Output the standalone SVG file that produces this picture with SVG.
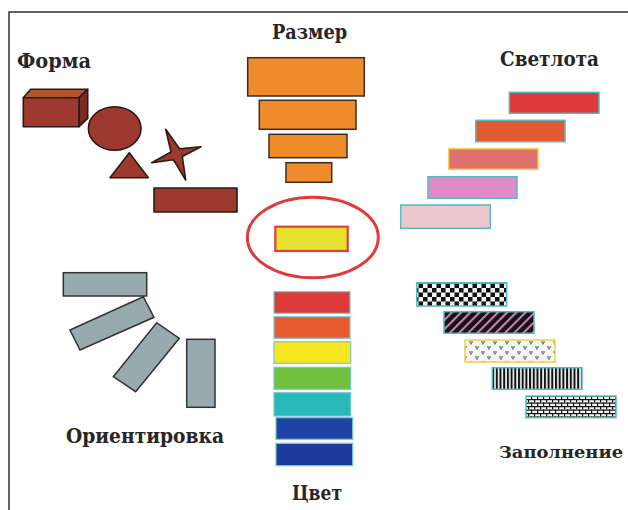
<svg xmlns="http://www.w3.org/2000/svg" width="628" height="510" viewBox="0 0 628 510">
<style>
.t{font-family:"DejaVu Serif","Liberation Serif","Times New Roman",serif;font-weight:bold;font-size:20px;fill:#262626}
.br{fill:#9c3a2f;stroke:#2a1a16;stroke-width:1.6;stroke-linejoin:round}
.or{fill:#f08b2c;stroke:#3a2c22;stroke-width:1.5}
.gr{fill:#98a9af;stroke:#333;stroke-width:1.5}
.tl{stroke:#52bcc0;stroke-width:1.5}
.cl{stroke:#70cccc;stroke-width:1.2}
</style>
<defs>
<pattern id="chk" width="9" height="9" patternUnits="userSpaceOnUse">
<rect width="9" height="9" fill="#f2f2f2"/>
<rect width="4.5" height="4.5" fill="#111"/>
<rect x="4.5" y="4.5" width="4.5" height="4.5" fill="#111"/>
</pattern>
<pattern id="diag" width="6.5" height="6.5" patternUnits="userSpaceOnUse" patternTransform="rotate(45)">
<rect width="6.5" height="6.5" fill="#151515"/>
<rect width="2" height="6.5" fill="#d77fc0"/>
</pattern>
<pattern id="vert" width="3.7" height="10" patternUnits="userSpaceOnUse">
<rect width="3.7" height="10" fill="#f4f4f4"/>
<rect width="2" height="10" fill="#111"/>
</pattern>
<pattern id="brick" width="12" height="7" patternUnits="userSpaceOnUse">
<rect width="12" height="7" fill="#f4f4f4"/>
<rect width="12" height="1.2" fill="#111"/>
<rect y="3.5" width="12" height="1.2" fill="#111"/>
<rect x="0" width="1.2" height="3.5" fill="#111"/>
<rect x="6" width="1.2" height="3.5" fill="#111"/>
<rect x="3" y="3.5" width="1.2" height="3.5" fill="#111"/>
<rect x="9" y="3.5" width="1.2" height="3.5" fill="#111"/>
</pattern>
<pattern id="dots" width="12" height="10" patternUnits="userSpaceOnUse">
<rect width="12" height="10" fill="#f6f6f4"/>
<g fill="#333">
<circle cx="2" cy="2" r="0.8"/><circle cx="4" cy="2" r="0.8"/><circle cx="3" cy="3.8" r="0.8"/>
<circle cx="8" cy="7" r="0.8"/><circle cx="10" cy="7" r="0.8"/><circle cx="9" cy="8.8" r="0.8"/>
</g>
</pattern>
</defs>
<rect width="628" height="510" fill="#fff"/>
<g id="frame"><polyline points="9,510 9,12 628,12" fill="none" stroke="#333" stroke-width="1.5"/></g>

<g id="forma">
<text class="t" x="17" y="68" textLength="74" lengthAdjust="spacingAndGlyphs">Форма</text>
<polygon class="br" points="23.3,97.7 30.7,89.3 87.7,89.3 79,97.7" style="fill:#b4542e"/>
<polygon class="br" points="79,97.7 87.7,89.3 87.7,118.3 79,126.7" style="fill:#7a2a24"/>
<rect class="br" x="23.3" y="97.7" width="55.7" height="29"/>
<ellipse class="br" cx="114.7" cy="128.5" rx="26.3" ry="21.7"/>
<polygon class="br" points="129.3,152.7 110,177.7 148.3,177.7"/>
<polygon class="br" points="165.7,129.3 179.5,148.8 201,146.7 182.3,156.5 185.7,180 173.5,159.8 151.7,162.7 171,152"/>
<rect class="br" x="154" y="188" width="83" height="24"/>
</g>

<g id="razmer">
<text class="t" x="272" y="39" textLength="75" lengthAdjust="spacingAndGlyphs">Размер</text>
<rect class="or" x="247.7" y="57.7" width="116.6" height="38.3"/>
<rect class="or" x="259.3" y="100.3" width="96.7" height="29"/>
<rect class="or" x="269" y="134.3" width="78" height="23.4"/>
<rect class="or" x="286" y="162.7" width="45.7" height="19.6"/>
</g>

<g id="svetlota">
<text class="t" x="500" y="66" textLength="99" lengthAdjust="spacingAndGlyphs">Светлота</text>
<rect class="tl" x="509.3" y="92.3" width="89.7" height="21" fill="#df3a3a"/>
<rect class="tl" x="475.7" y="120.3" width="89.3" height="21.4" fill="#e45a32"/>
<rect x="448.7" y="148.7" width="89.3" height="20.6" fill="#e07070" stroke="#ead24a" stroke-width="1.5"/>
<rect class="tl" x="428" y="176.7" width="89" height="21.6" fill="#e08ac8"/>
<rect class="tl" x="400.7" y="205" width="89.6" height="23.3" fill="#ecc8cc"/>
</g>

<g id="center">
<ellipse cx="312.8" cy="237.5" rx="65.5" ry="40.2" fill="none" stroke="#e03a3a" stroke-width="3"/>
<rect x="275.3" y="226.7" width="72.4" height="24.3" fill="#e6e02e" stroke="#e0403c" stroke-width="2.2"/>
</g>

<g id="orientirovka">
<text class="t" x="66" y="443" textLength="158" lengthAdjust="spacingAndGlyphs">Ориентировка</text>
<rect class="gr" x="63.3" y="272.7" width="83.4" height="23.3"/>
<polygon class="gr" points="70,330 143.3,296.7 154,317.3 80,350"/>
<polygon class="gr" points="113.3,376.7 156.7,322.7 179.3,338.3 135.7,391.7"/>
<rect class="gr" x="186.7" y="339.3" width="28.3" height="68"/>
</g>

<g id="cvet">
<text class="t" x="292" y="500" textLength="50" lengthAdjust="spacingAndGlyphs">Цвет</text>
<rect class="cl" x="274" y="291.7" width="76" height="21.6" fill="#df3a3a"/>
<rect class="cl" x="274" y="316.7" width="76" height="21.6" fill="#e85a30"/>
<rect class="cl" x="274" y="341.7" width="76.7" height="21.6" fill="#f6e620"/>
<rect class="cl" x="274" y="367.3" width="76.7" height="22" fill="#72c040"/>
<rect class="cl" x="274" y="392.7" width="76.7" height="23.3" fill="#2ab8b8"/>
<rect class="cl" x="276" y="417.7" width="76.7" height="21.6" fill="#1f42a6"/>
<rect class="cl" x="276" y="443.3" width="76.7" height="22.4" fill="#1e3c9e"/>
</g>

<g id="zapolnenie">
<text class="t" x="499" y="458" style="font-size:17.5px" textLength="124" lengthAdjust="spacingAndGlyphs">Заполнение</text>
<rect class="tl" x="416.7" y="282.7" width="90" height="23.3" fill="url(#chk)"/>
<rect class="tl" x="444" y="311.7" width="90" height="21.6" fill="url(#diag)"/>
<rect x="465" y="340" width="90" height="22" fill="url(#dots)" stroke="#ead24a" stroke-width="1.5"/>
<rect class="tl" x="492.3" y="367.7" width="89.7" height="21.6" fill="url(#vert)"/>
<rect class="tl" x="526" y="396" width="90" height="21.7" fill="url(#brick)"/>
</g>
</svg>
